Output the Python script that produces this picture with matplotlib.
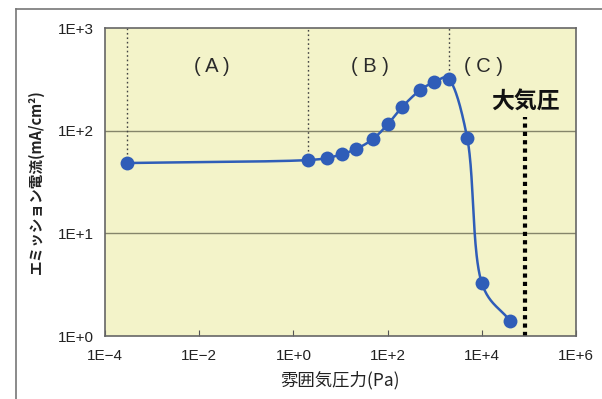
import numpy as np
import matplotlib
matplotlib.use("Agg")
import matplotlib.pyplot as plt
from matplotlib.lines import Line2D

plt.rcParams['font.family'] = ['Noto Sans CJK JP', 'DejaVu Sans']

# Data
pressure = [3e-4, 2.0, 5.1, 10.7, 21, 49, 102, 204, 490, 977, 2000, 4900, 1.0e4, 4.0e4]
current = [48.4, 51.7, 54, 59, 66, 83, 116, 170, 248, 297, 318, 85, 3.28, 1.4]
region_lines_x = [3e-4, 2.0, 2000]
region_lines_y = [48.4, 51.7, 318]
region_labels = ['( A )', '( B )', '( C )']
region_label_x = [0.0186, 42, 1.07e4]
atm_x = 8.3e4
xticks = [1e-4, 1e-2, 1e0, 1e2, 1e4, 1e6]
xticklabels = ['1E−4', '1E−2', '1E+0', '1E+2', '1E+4', '1E+6']
yticks = [1e0, 1e1, 1e2, 1e3]
yticklabels = ['1E+0', '1E+1', '1E+2', '1E+3']


def catmull_rom(px, py, n=40):
    px = np.asarray(px, float)
    py = np.asarray(py, float)
    P = np.column_stack([px, py])
    P = np.vstack([2 * P[0] - P[1], P, 2 * P[-1] - P[-2]])
    out = []
    for i in range(1, len(P) - 2):
        p0, p1, p2, p3 = P[i - 1], P[i], P[i + 1], P[i + 2]
        a = 0.5
        def tj(ti, pi, pj):
            return ti + max(np.linalg.norm(pj - pi), 1e-9) ** a
        t0 = 0.0
        t1 = tj(t0, p0, p1)
        t2 = tj(t1, p1, p2)
        t3 = tj(t2, p2, p3)
        t = np.linspace(t1, t2, n)[:, None]
        A1 = (t1 - t) / (t1 - t0) * p0 + (t - t0) / (t1 - t0) * p1
        A2 = (t2 - t) / (t2 - t1) * p1 + (t - t1) / (t2 - t1) * p2
        A3 = (t3 - t) / (t3 - t2) * p2 + (t - t2) / (t3 - t2) * p3
        B1 = (t2 - t) / (t2 - t0) * A1 + (t - t0) / (t2 - t0) * A2
        B2 = (t3 - t) / (t3 - t1) * A2 + (t - t1) / (t3 - t1) * A3
        C = (t2 - t) / (t2 - t1) * B1 + (t - t1) / (t2 - t1) * B2
        out.append(C)
    return np.vstack(out)


fig = plt.figure(figsize=(6.02, 3.99), dpi=100)
ax = fig.add_axes([105 / 602, 1 - 336 / 399, 471 / 602, 308 / 399])
ax.set_facecolor('#F3F3C9')
ax.set_xscale('log')
ax.set_yscale('log')
ax.set_xlim(1e-4, 1e6)
ax.set_ylim(1e0, 1e3)

# gridlines
for yv in [1e1, 1e2]:
    ax.axhline(yv, color='#85856A', lw=1.0, zorder=1)

# region dotted lines
ax.vlines(region_lines_x, region_lines_y, 1e3, colors='#444444', linestyles=(0, (1.2, 2.0)), lw=1.0, zorder=2)

# smooth curve through points in log space
lx, ly = np.log10(pressure), np.log10(current)
curve = catmull_rom(lx, ly)
ax.plot(10 ** curve[:, 0], 10 ** curve[:, 1], color='#2F5DB8', lw=1.8, zorder=3)
ax.plot(pressure, current, 'o', color='#2F5DB8', markersize=10, markeredgewidth=0, zorder=4)

# atmospheric pressure line
ax.vlines(atm_x, 1e0, 135, colors='black', linestyles=(0, (1.0, 1.0)), lw=3.0, zorder=2)
ax.text(atm_x, 190, '大気圧', ha='center', va='center', fontsize=16.5, fontweight='bold', color='#111111')

for lab, xv in zip(region_labels, region_label_x):
    ax.text(xv, 417, lab, ha='center', va='center', fontsize=14.5, color='#2a2a2a',
            family=['Liberation Sans', 'DejaVu Sans'])

ax.set_xticks(xticks)
ax.set_xticklabels(xticklabels)
ax.set_yticks(yticks)
ax.set_yticklabels(yticklabels)
ax.xaxis.set_minor_locator(matplotlib.ticker.NullLocator())
ax.yaxis.set_minor_locator(matplotlib.ticker.NullLocator())
ax.tick_params(axis='x', direction='in', length=4, width=0.8, color='#555555', labelsize=11, pad=9, labelcolor='#222222')
ax.tick_params(axis='y', length=0, labelsize=11, pad=8, labelcolor='#222222')
for lab in ax.get_xticklabels() + ax.get_yticklabels():
    lab.set_family(['Liberation Sans', 'DejaVu Sans'])
for s in ax.spines.values():
    s.set_color('#666666')
    s.set_linewidth(1.2)

ax.set_xlabel('雰囲気圧力(Pa)', fontsize=12.5, color='#222222', labelpad=6)
ax.set_ylabel('エミッション電流(mA/cm²)', fontsize=10.5, fontweight='bold', color='#222222', labelpad=10)

# outer frame lines
fig.add_artist(Line2D([16 / 602, 16 / 602], [0, 1 - 9 / 399], color='#777777', lw=1.2, transform=fig.transFigure))
fig.add_artist(Line2D([16 / 602, 1], [1 - 9 / 399, 1 - 9 / 399], color='#777777', lw=1.2, transform=fig.transFigure))

fig.savefig('out.png', dpi=100)
